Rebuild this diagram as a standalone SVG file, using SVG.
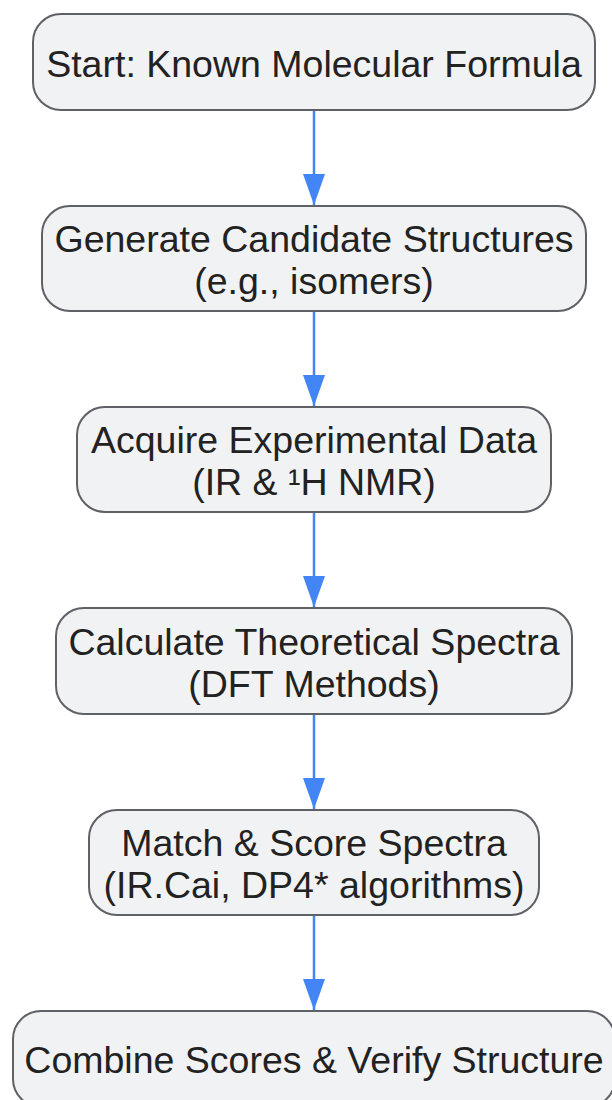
<svg xmlns="http://www.w3.org/2000/svg" width="612" height="1100" viewBox="0 0 612 1100">
<style>
.node rect{fill:#f1f2f4;stroke:#5f6166;stroke-width:2}
.node text{font-family:"Liberation Sans",Arial,sans-serif;font-size:37.5px;fill:#222222;text-anchor:middle}
.edge{stroke:#4385f5;stroke-width:2.5;fill:none}
</style>
<defs>
<marker id="arrow" markerUnits="userSpaceOnUse" viewBox="0 0 31 22" refX="31" refY="11" markerWidth="31" markerHeight="22" orient="auto">
<path d="M0,0 L31,11 L0,22 Z" fill="#4385f5"/>
</marker>
</defs>
<rect width="612" height="1100" fill="#ffffff"/>
<g id="connectors">
<line class="edge" x1="314" y1="110" x2="314" y2="205" marker-end="url(#arrow)"/>
<line class="edge" x1="314" y1="311" x2="314" y2="406" marker-end="url(#arrow)"/>
<line class="edge" x1="314" y1="512" x2="314" y2="607" marker-end="url(#arrow)"/>
<line class="edge" x1="314" y1="714" x2="314" y2="809" marker-end="url(#arrow)"/>
<line class="edge" x1="314" y1="915" x2="314" y2="1010" marker-end="url(#arrow)"/>
</g>
<g id="node1" class="node">
<rect x="33" y="14" width="562" height="96" rx="28" ry="28"/>
<text x="314" y="77">Start: Known Molecular Formula</text>
</g>
<g id="node2" class="node">
<rect x="42" y="206" width="544" height="105" rx="28" ry="28"/>
<text x="314" y="252">Generate Candidate Structures</text>
<text x="314" y="294">(e.g., isomers)</text>
</g>
<g id="node3" class="node">
<rect x="77" y="407" width="474" height="105" rx="28" ry="28"/>
<text x="314" y="453">Acquire Experimental Data</text>
<text x="314" y="495">(IR &amp; ¹H NMR)</text>
</g>
<g id="node4" class="node">
<rect x="56" y="608" width="516" height="106" rx="28" ry="28"/>
<text x="314" y="655">Calculate Theoretical Spectra</text>
<text x="314" y="697">(DFT Methods)</text>
</g>
<g id="node5" class="node">
<rect x="89" y="810" width="450" height="105" rx="28" ry="28"/>
<text x="314" y="856">Match &amp; Score Spectra</text>
<text x="314" y="898">(IR.Cai, DP4* algorithms)</text>
</g>
<g id="node6" class="node">
<rect x="13" y="1011" width="602" height="96" rx="28" ry="28"/>
<text x="314" y="1073">Combine Scores &amp; Verify Structure</text>
</g>
</svg>
